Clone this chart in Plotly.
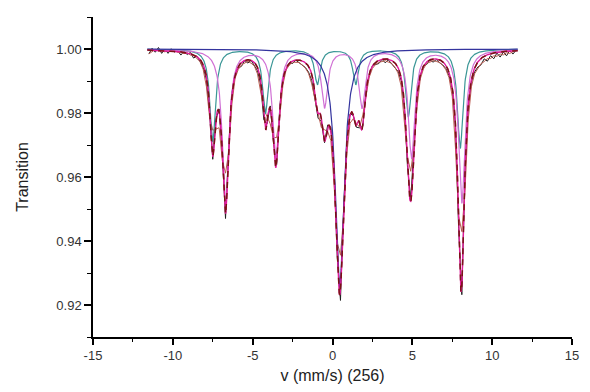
import numpy as np
import plotly.graph_objects as go

# ---- fitted component parameters ----
teal_pos = [-7.5, -4.2, -0.95, 1.45, 4.75, 8.0]
teal_depth = [0.029, 0.020, 0.011, 0.011, 0.021, 0.031]
teal_hw = 0.21

orchid_pos = [-6.7, -3.55, -0.5, 1.85, 4.95, 8.1]
orchid_depth = [0.049, 0.034, 0.018, 0.018, 0.034, 0.048]
orchid_hw = 0.24

singlet_pos = [0.45]
singlet_depth = [0.074]
singlet_hw = 0.33

# ---- measured spectrum: deviation from the fit (x 1e-3), channels from -11.5 step 0.2 ----
v_start = -11.5
v_step = 0.2
residual_milli = [
    -1.2, 0.6, -0.6, 0.9, -0.9, 0.5, -0.8, 0.7, -0.3, 0.4, -1.0, 0.3, -0.5, 0.4, -1.0, 0.2,
    -0.6, -0.8, -1.0, -1.5, -1.0, 0.5, 1.0, -0.5, -1.5, 0.5, 1.0, 0.5, -0.4, -1.2, 0.0, -1.0,
    0.0, -1.2, -1.0, -1.2, -1.5, -0.5, 0.8, -0.3, -0.8, 0.6, 0.8, -0.3, 0.2, -0.8, 0.0, -0.8,
    -1.2, -1.5, -1.8, -2.0, -1.8, -1.5, -1.0, -0.5, 0.8, 1.5, 1.0, -1.0, -3.5, 0.5, 1.0, 0.5,
    0.0, -0.8, -1.5, -0.5, 0.3, -0.5, 0.2, -0.6, -1.0, 0.0, -1.2, -0.2, -1.0, -1.2, -1.2, -0.8,
    -0.5, 0.2, 0.8, 0.3, 0.4, -0.4, 0.2, -0.8, 0.0, -1.0, -0.2, -0.9, -1.0, -1.0, -1.0, -0.6,
    -0.2, -2.0, -3.0, 0.8, 0.0, -0.8, -1.2, -1.6, -2.0, -0.8, -2.0, -0.6, -1.8, -0.2, -1.6, -0.1,
    -1.4, 0.2, -1.0, 0.2,
]

x_ticks = [-15, -10, -5, 0, 5, 10, 15]
y_ticks = [0.92, 0.94, 0.96, 0.98, 1.00]


def absorption(v, pos, depth, hw):
    v = np.asarray(v, dtype=float)
    out = np.zeros_like(v)
    for p, d in zip(pos, depth):
        out += d * hw ** 2 / ((v - p) ** 2 + hw ** 2)
    return out


def total_abs(v):
    return (absorption(v, teal_pos, teal_depth, teal_hw)
            + absorption(v, orchid_pos, orchid_depth, orchid_hw)
            + absorption(v, singlet_pos, singlet_depth, singlet_hw))


vf = np.linspace(-11.6, 11.6, 1161)
teal = 1 - absorption(vf, teal_pos, teal_depth, teal_hw)
orchid = 1 - absorption(vf, orchid_pos, orchid_depth, orchid_hw)
singlet = 1 - absorption(vf, singlet_pos, singlet_depth, singlet_hw)
fit = 1 - total_abs(vf)

vd = v_start + v_step * np.arange(len(residual_milli))
data = 1 - total_abs(vd) + np.array(residual_milli) * 1e-3
smooth = data.copy()
smooth[1:-1] = (data[:-2] + data[1:-1] + data[2:]) / 3.0

fig = go.Figure()
fig.add_trace(go.Scatter(x=vd, y=data, mode="lines", line=dict(color="#1E1E1E", width=1)))
fig.add_trace(go.Scatter(x=vd, y=smooth, mode="lines", line=dict(color="#B8584E", width=1)))
fig.add_trace(go.Scatter(x=vf, y=teal, mode="lines", line=dict(color="#3A9696", width=1.2)))
fig.add_trace(go.Scatter(x=vf, y=orchid, mode="lines", line=dict(color="#D070D4", width=1.2)))
fig.add_trace(go.Scatter(x=vf, y=singlet, mode="lines", line=dict(color="#34349E", width=1.2)))
fig.add_trace(go.Scatter(x=vf, y=fit, mode="lines", line=dict(color="#E0189A", width=1.4)))
fig.add_trace(go.Scatter(x=vf, y=fit, mode="lines",
                         line=dict(color="#7A1414", width=1.5, dash="6px,5px")))

axis_font = dict(family="Liberation Sans, Arial, sans-serif", size=13, color="#333333")
title_font = dict(family="Liberation Sans, Arial, sans-serif", size=16, color="#222222")
# page body adds an 8px margin, so the figure is sized to fill the 590x392 window
fig.update_layout(
    width=574, height=376,
    margin=dict(l=85, r=10, t=9, b=47),
    paper_bgcolor="white", plot_bgcolor="white",
    showlegend=False,
    font=axis_font,
)
fig.update_xaxes(
    range=[-15, 15], tickvals=x_ticks, ticktext=[str(t) for t in x_ticks],
    showgrid=False, zeroline=False, showline=True, linecolor="black", linewidth=1.5,
    ticks="outside", ticklen=6, tickwidth=1.5, tickcolor="black",
    minor=dict(dtick=2.5, tick0=0, ticks="outside", ticklen=3, tickwidth=1.2, tickcolor="black"),
    title=dict(text="v (mm/s) (256)", font=title_font, standoff=7),
    tickfont=axis_font, automargin=False,
)
fig.update_yaxes(
    range=[0.91, 1.01], tickvals=y_ticks, ticktext=["%.2f" % t for t in y_ticks],
    showgrid=False, zeroline=False, showline=True, linecolor="black", linewidth=1.5,
    ticks="outside", ticklen=7, tickwidth=1.5, tickcolor="black",
    minor=dict(dtick=0.01, tick0=0.91, ticks="outside", ticklen=4, tickwidth=1.2, tickcolor="black"),
    title=dict(text="Transition", font=title_font, standoff=24),
    tickfont=axis_font, automargin=False,
)

fig.write_html("out.html")
